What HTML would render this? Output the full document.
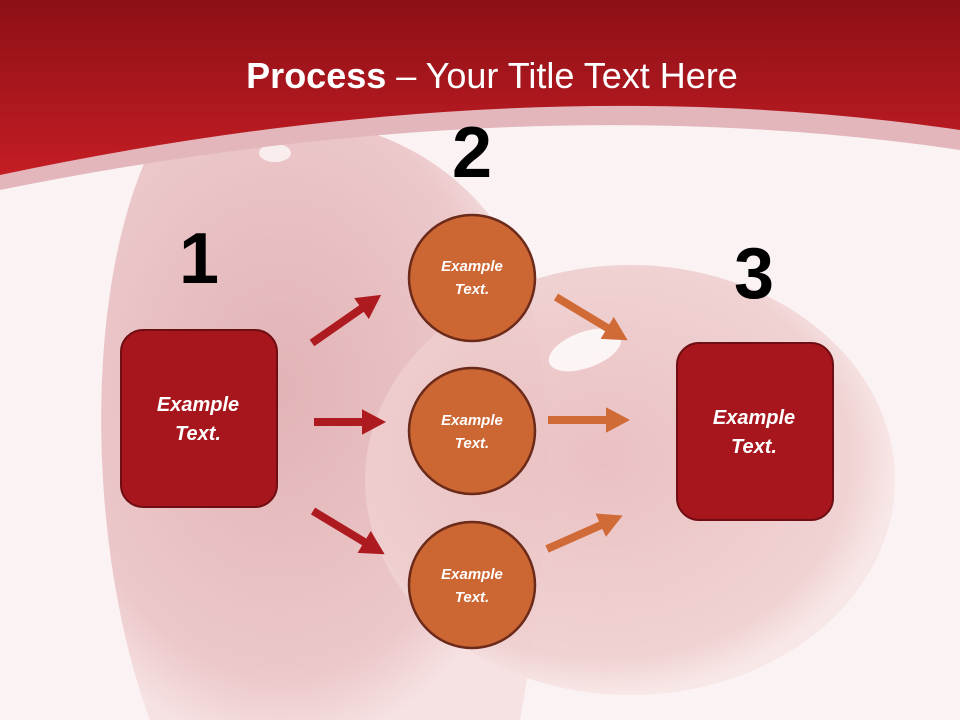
<!DOCTYPE html>
<html><head><meta charset="utf-8"><style>
html,body{margin:0;padding:0;width:960px;height:720px;overflow:hidden;background:#fbf2f3}
svg{display:block}
</style></head><body>
<svg width="960" height="720" viewBox="0 0 960 720" xmlns="http://www.w3.org/2000/svg" font-family="'Liberation Sans',sans-serif">
<defs>
<linearGradient id="hdr" x1="0" y1="0" x2="0" y2="1">
<stop offset="0" stop-color="#8c1016"/><stop offset="1" stop-color="#c41d24"/>
</linearGradient>
<radialGradient id="lobe1" cx="0.4" cy="0.45" r="0.6">
<stop offset="0" stop-color="#e2b3b6"/><stop offset="0.8" stop-color="#ecc8ca"/><stop offset="1" stop-color="#f6e2e3"/>
</radialGradient>
<radialGradient id="lobe2" cx="0.45" cy="0.45" r="0.55">
<stop offset="0" stop-color="#e8bbbd"/><stop offset="0.85" stop-color="#efcfcf"/><stop offset="1" stop-color="#f8e6e6"/>
</radialGradient>
<marker id="mr" markerWidth="3" markerHeight="3.2" refX="1" refY="1.6" orient="auto" markerUnits="strokeWidth"><path d="M0,0 L3,1.6 L0,3.2 z" fill="#ad1a20"/></marker>
<marker id="mo" markerWidth="3" markerHeight="3.2" refX="1" refY="1.6" orient="auto" markerUnits="strokeWidth"><path d="M0,0 L3,1.6 L0,3.2 z" fill="#d06a36"/></marker>
</defs>
<rect width="960" height="720" fill="#fbf2f3"/>
<path d="M150,150 C250,90 420,110 500,230 C560,330 560,500 520,720 L150,720 C90,560 80,300 150,150 z" fill="url(#lobe1)"/>
<ellipse cx="630" cy="480" rx="265" ry="215" fill="url(#lobe2)" opacity="0.9"/>
<ellipse cx="585" cy="350" rx="38" ry="18" fill="#fff" opacity="0.8" transform="rotate(-20 585 350)"/>
<ellipse cx="275" cy="153" rx="16" ry="9" fill="#fff" opacity="0.7"/>
<path d="M0,0 H960 V150 Q520,85 0,190 z" fill="#e2b6ba"/>
<path d="M0,0 H960 V130 Q520,65 0,175 z" fill="url(#hdr)"/>
<text x="492" y="88" text-anchor="middle" fill="#fff" font-size="36"><tspan font-weight="bold">Process</tspan> – Your Title Text Here</text>
<text x="199" y="283" text-anchor="middle" font-size="72" font-weight="bold">1</text>
<text x="472" y="177" text-anchor="middle" font-size="72" font-weight="bold">2</text>
<text x="754" y="298" text-anchor="middle" font-size="72" font-weight="bold">3</text>
<g stroke-width="8" fill="none">
<line x1="312" y1="343" x2="368" y2="304" stroke="#ad1a20" marker-end="url(#mr)"/>
<line x1="314" y1="422" x2="370" y2="422" stroke="#ad1a20" marker-end="url(#mr)"/>
<line x1="313" y1="511" x2="371" y2="546" stroke="#ad1a20" marker-end="url(#mr)"/>
<line x1="556" y1="297" x2="614" y2="332" stroke="#d06a36" marker-end="url(#mo)"/>
<line x1="548" y1="420" x2="614" y2="420" stroke="#d06a36" marker-end="url(#mo)"/>
<line x1="547" y1="549" x2="608" y2="522" stroke="#d06a36" marker-end="url(#mo)"/>
</g>
<rect x="121" y="330" width="156" height="177" rx="22" fill="#a8161d" stroke="#6e0d12" stroke-width="2"/>
<rect x="677" y="343" width="156" height="177" rx="22" fill="#a8161d" stroke="#6e0d12" stroke-width="2"/>
<g fill="#fff" font-weight="bold" font-style="italic" text-anchor="middle">
<text x="198" y="411" font-size="20">Example</text><text x="198" y="440" font-size="20">Text.</text>
<text x="754" y="424" font-size="20">Example</text><text x="754" y="453" font-size="20">Text.</text>
</g>
<g fill="#cc6633" stroke="#6b2a1a" stroke-width="2.5">
<circle cx="472" cy="278" r="63"/><circle cx="472" cy="431" r="63"/><circle cx="472" cy="585" r="63"/>
</g>
<g fill="#fff" font-weight="bold" font-style="italic" text-anchor="middle" font-size="15">
<text x="472" y="271">Example</text><text x="472" y="294">Text.</text>
<text x="472" y="425">Example</text><text x="472" y="448">Text.</text>
<text x="472" y="579">Example</text><text x="472" y="602">Text.</text>
</g>
</svg>
</body></html>
